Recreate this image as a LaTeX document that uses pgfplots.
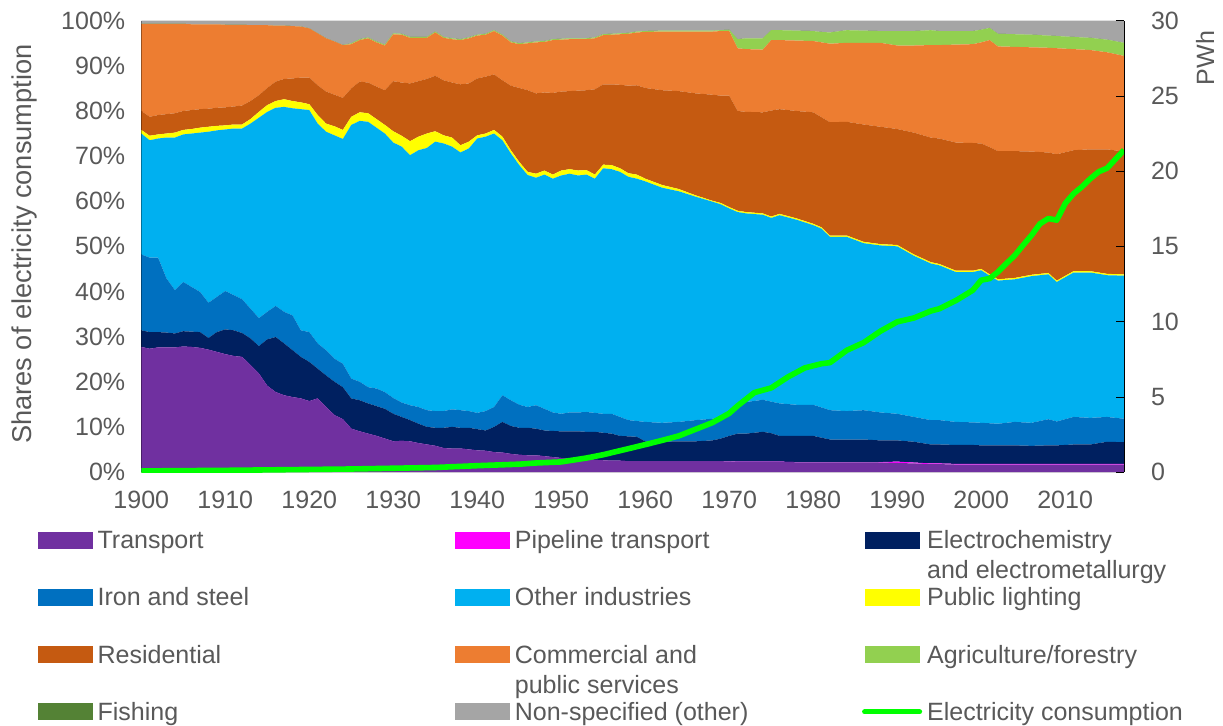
\documentclass[border=0pt]{standalone}
\usepackage{fontspec}
\setmainfont{Liberation Sans}
\usepackage{pgfplots}
\pgfplotsset{compat=1.18}
\usepackage{pgfplotstable}

\definecolor{ctra}{HTML}{7030A0}
\definecolor{cpip}{HTML}{FF00FF}
\definecolor{cele}{HTML}{002060}
\definecolor{ciro}{HTML}{0070C0}
\definecolor{coth}{HTML}{00B0F0}
\definecolor{clig}{HTML}{FFFF00}
\definecolor{cres}{HTML}{C55A11}
\definecolor{ccom}{HTML}{ED7D31}
\definecolor{cagr}{HTML}{92D050}
\definecolor{cfis}{HTML}{548235}
\definecolor{cnon}{HTML}{A5A5A5}
\definecolor{cpwh}{HTML}{00FF00}
\definecolor{ctxt}{HTML}{595959}

% shares of electricity consumption, %
\pgfplotstableread{
year tra  pip  ele  iro  oth  lig res  com  agr fis non
1900 27.7 0    3.7  16.8 26.8 0.8 4.2  19.3 0   0   0.7
1901 27.3 0    3.7  16.5 26.0 1.0 4.2  20.6 0   0   0.7
1902 27.6 0    3.4  16.5 26.4 0.9 4.3  20.2 0   0   0.7
1903 27.6 0    3.3  12.0 31.2 0.9 4.3  20.0 0   0   0.7
1904 27.6 0    3.1  9.6  33.8 1.1 4.3  19.8 0   0   0.7
1905 27.8 0    3.4  10.9 32.7 1.0 4.2  19.3 0   0   0.7
1906 27.7 0    3.4  9.9  34.0 1.0 4.2  19.0 0   0   0.8
1907 27.5 0    3.5  8.9  35.3 1.1 4.1  18.8 0   0   0.8
1908 27.1 0    2.6  7.8  37.9 1.1 4.0  18.7 0   0   0.8
1909 26.6 0    4.4  7.8  36.9 1.0 4.0  18.5 0   0   0.8
1910 26.1 0    5.5  8.5  35.8 0.9 4.0  18.3 0   0   0.9
1911 25.7 0    5.7  7.8  36.9 0.9 4.0  18.1 0   0   0.9
1912 25.5 0    5.3  7.5  37.8 0.9 4.2  17.9 0   0   0.9
1913 23.7 0    5.9  6.6  41.0 1.0 4.0  16.8 0   0   1.0
1914 21.8 0    6.1  6.2  44.4 1.3 3.7  15.5 0   0   1.0
1915 19.1 0    10.3 6.1  44.3 1.5 3.8  13.9 0   0   1.0
1916 17.7 0    12.2 6.9  43.9 1.5 4.3  12.4 0   0   1.1
1917 17.0 0    11.5 7.0  45.4 1.7 4.5  11.8 0   0   1.1
1918 16.6 0    10.4 7.7  45.9 1.6 5.0  11.6 0   0   1.2
1919 16.3 0    9.2  5.9  49.0 1.5 5.5  11.3 0   0   1.3
1920 15.7 0    8.7  6.6  49.2 1.3 5.9  10.9 0   0   1.7
1921 16.3 0    6.6  5.6  48.7 1.9 6.6  11.5 0   0   2.8
1922 14.4 0    7.0  5.6  48.4 1.8 7.1  11.8 0   0   3.9
1923 12.6 0    7.4  5.1  49.5 2.0 7.0  11.8 0   0   4.6
1924 11.7 0    7.1  5.2  49.8 2.0 7.1  11.7 0   0   5.4
1925 9.6  0    6.7  4.4  56.2 1.8 6.3  9.8  0.2 0   5.0
1926 9.0  0    6.9  4.1  57.8 1.9 6.8  9.2  0.2 0   4.1
1927 8.5  0    6.7  3.6  58.8 1.9 6.8  9.8  0.2 0   3.7
1928 8.0  0    6.6  3.9  57.8 1.9 7.2  9.8  0.2 0   4.6
1929 7.4  0    6.6  3.7  57.3 1.9 7.7  9.9  0.2 0   5.3
1930 6.8  0    6.1  3.5  56.6 2.5 11.1 10.4 0.2 0   2.8
1931 6.9  0    5.3  3.2  56.7 2.4 11.8 10.6 0.2 0   2.9
1932 6.8  0    4.7  3.3  55.4 3.1 12.8 10.1 0.2 0   3.6
1933 6.4  0    4.3  3.7  56.9 3.0 12.3 9.6  0.2 0   3.6
1934 6.1  0    3.9  3.7  58.1 3.2 12.1 9.1  0.2 0   3.6
1935 5.8  0    4.0  3.7  59.7 2.3 12.3 9.6  0.2 0   2.4
1936 5.3  0    4.5  3.7  59.3 1.8 12.2 9.4  0.2 0   3.6
1937 5.2  0    4.8  3.9  58.2 2.0 12.2 9.6  0.2 0   3.9
1938 5.2  0    4.6  3.9  57.1 1.6 13.5 9.8  0.2 0   4.1
1939 5.0  0    4.8  3.7  58.2 1.5 12.9 10.0 0.2 0   3.7
1940 4.8  0    4.7  3.6  60.8 0.7 12.6 9.5  0.2 0   3.1
1941 4.7  0    4.5  4.3  60.8 0.7 12.6 9.3  0.2 0   2.9
1942 4.4  0    5.6  4.4  60.6 0.8 12.3 9.6  0.2 0   2.1
1943 4.3  0    6.8  5.9  56.5 0.8 12.5 9.9  0.2 0   3.1
1944 4.0  0    6.2  5.7  54.7 0.7 14.3 9.6  0.2 0   4.6
1945 3.8  0    6.0  5.1  53.1 0.7 16.4 9.7  0.2 0   5.0
1946 3.7  0    6.1  4.6  51.4 0.7 18.1 10.4 0.2 0   4.8
1947 3.7  0    5.9  5.2  50.4 0.9 17.8 11.3 0.2 0   4.6
1948 3.5  0    5.7  4.8  51.9 0.9 17.3 11.2 0.2 0   4.5
1949 3.3  0    5.8  4.1  51.8 0.9 18.1 11.7 0.2 0   4.1
1950 3.1  0    5.9  3.9  52.8 1.1 17.5 11.5 0.2 0   4.0
1951 3.0  0    6.0  4.2  52.9 1.0 17.3 11.5 0.2 0   3.9
1952 2.9  0    6.1  4.2  52.5 1.1 17.7 11.4 0.2 0   3.9
1953 2.8  0    6.1  4.4  52.6 1.0 17.7 11.3 0.2 0   3.9
1954 2.7  0    6.2  4.2  51.9 0.9 18.9 11.3 0.2 0   3.7
1955 2.6  0    6.1  4.2  54.4 0.8 17.8 10.9 0.2 0   3.0
1956 2.5  0    6.0  4.4  54.2 0.9 17.9 11.0 0.2 0   2.9
1957 2.5  0    5.5  4.2  54.3 0.8 18.5 11.2 0.2 0   2.8
1958 2.4  0    5.5  3.6  53.9 0.8 19.4 11.5 0.2 0   2.7
1959 2.4  0    5.4  3.5  53.7 0.9 19.8 11.7 0.2 0   2.4
1960 2.4  0    4.4  4.3  53.3 0.6 20.1 12.4 0.2 0   2.3
1962 2.4  0    4.3  4.2  52.1 0.6 21.0 13.0 0.2 0   2.2
1964 2.4  0    4.4  4.3  51.1 0.5 21.7 13.2 0.2 0   2.2
1966 2.4  0    4.4  4.7  49.5 0.3 22.6 13.7 0.2 0   2.2
1968 2.4  0    4.6  4.8  48.1 0.2 23.5 14.0 0.2 0   2.2
1969 2.4  0    5.0  4.8  47.1 0.3 23.8 14.3 0.2 0   2.1
1970 2.35 0.05 5.6  4.9  45.5 0.3 24.7 14.3 0.3 0   2.0
1971 2.25 0.05 6.2  6.7  42.4 0.3 22.1 13.9 2.0 0   4.1
1972 2.25 0.05 6.2  7.0  41.8 0.3 22.2 13.9 2.4 0   3.9
1974 2.25 0.05 6.6  7.1  41.0 0.3 22.4 13.9 2.5 0   3.9
1975 2.25 0.05 6.3  7.0  40.7 0.3 23.5 15.6 2.2 0   2.1
1976 2.25 0.05 5.7  7.2  41.7 0.3 23.2 15.3 2.2 0   2.1
1978 2.15 0.05 5.8  6.9  41.0 0.3 23.8 15.6 2.2 0   2.2
1980 2.15 0.05 5.8  6.9  39.8 0.3 24.7 15.8 2.2 0   2.3
1981 2.15 0.05 5.4  6.7  39.6 0.3 24.4 16.6 2.3 0   2.5
1982 2.15 0.05 5.0  6.5  38.4 0.3 25.1 17.4 2.5 0   2.6
1984 2.15 0.05 5.0  6.3  38.6 0.3 25.2 17.5 2.8 0   2.1
1986 2.15 0.05 5.0  6.5  37.0 0.3 26.0 18.1 2.7 0   2.2
1988 2.1  0.1  4.8  6.2  37.0 0.3 26.0 18.6 2.6 0   2.3
1990 2.0  0.3  4.7  5.9  37.1 0.3 25.7 18.5 3.2 0   2.3
1992 1.9  0.2  4.6  5.5  35.7 0.3 27.0 19.3 3.2 0   2.3
1994 1.75 0.15 4.2  5.4  34.7 0.3 27.6 20.5 3.3 0   2.1
1995 1.75 0.15 4.2  5.4  34.3 0.3 27.8 20.7 3.1 0   2.3
1997 1.65 0.15 4.2  5.1  33.2 0.3 28.4 21.7 3.0 0   2.3
1999 1.65 0.15 4.2  5.0  33.3 0.3 28.3 21.9 2.9 0   2.3
2000 1.65 0.15 4.1  5.0  33.8 0.3 27.8 22.4 2.8 0   2.0
2001 1.65 0.15 4.1  4.9  32.7 0.3 28.2 23.7 2.7 0   1.6
2002 1.65 0.15 4.1  4.8  31.7 0.3 28.4 23.2 2.8 0   2.9
2004 1.65 0.15 4.1  5.2  31.6 0.3 28.1 23.1 2.8 0   3.0
2006 1.65 0.15 4.0  5.1  32.5 0.3 27.3 23.1 2.8 0   3.1
2008 1.65 0.15 4.1  5.8  32.1 0.3 26.7 23.2 2.7 0   3.3
2009 1.65 0.15 4.1  5.3  30.9 0.3 28.0 23.5 2.7 0   3.4
2011 1.65 0.15 4.3  6.1  32.0 0.3 26.8 22.4 2.7 0   3.6
2013 1.65 0.15 4.3  5.9  32.2 0.3 27.0 22.0 2.7 0   3.8
2015 1.65 0.15 4.9  5.5  31.4 0.3 27.6 21.5 2.8 0   4.2
2017 1.65 0.15 4.8  5.2  31.7 0.3 27.2 21.2 2.9 0   4.9
}\shares

% electricity consumption, PWh
\pgfplotstableread{
year pwh
1900 0.07
1905 0.09
1910 0.11
1915 0.14
1920 0.17
1925 0.20
1930 0.25
1935 0.30
1940 0.42
1945 0.52
1947 0.60
1950 0.67
1953 0.93
1955 1.15
1958 1.55
1960 1.82
1962 2.10
1964 2.40
1966 2.84
1968 3.28
1970 3.90
1971 4.40
1973 5.28
1975 5.59
1977 6.32
1979 6.92
1981 7.20
1982 7.27
1984 8.09
1986 8.60
1988 9.36
1990 9.98
1992 10.24
1994 10.70
1995 10.85
1997 11.40
1999 12.08
2000 12.75
2001 12.86
2002 13.30
2003 13.86
2004 14.40
2005 15.08
2006 15.74
2007 16.50
2008 16.85
2009 16.74
2010 17.85
2011 18.50
2012 18.96
2013 19.50
2014 19.96
2015 20.20
2016 20.80
2017 21.40
}\pwh

\newcommand\fnt{\fontsize{12.5}{15}\selectfont}
\newcommand\lgd[2]{\parbox[t][28.6pt][t]{#1}{\raggedright\strut#2}}
\newcommand\lgdl[2]{\parbox[t]{#1}{\raggedright\rule{0pt}{10.5pt}#2}}

\pgfplotsset{
  common/.style={
    width=491pt, height=225.5pt, scale only axis,
    xmin=1900, xmax=2017,
    tick label style={font=\fnt, color=ctxt},
    label style={font=\fnt, color=ctxt},
    /pgf/number format/assume math mode=true,
    /pgf/number format/1000 sep={},
    tick align=inside,
  },
}

\begin{document}
\begin{tikzpicture}
\begin{axis}[
  common,
  ymin=0, ymax=100,
  axis x line*=bottom, axis y line*=left,
  x axis line style={draw=black!15, -},
  y axis line style={draw=black, -},
  xtick={1900,1910,...,2010},
  xticklabel style={yshift=-6pt},
  major x tick style={draw=none},
  minor xtick={1904.5,1909.5,...,2014.5},
  minor x tick style={draw=black!15},
  minor tick length=2.5pt,
  ytick={0,10,...,100},
  yticklabel={\pgfmathprintnumber{\tick}\%},
  yticklabel style={xshift=-4.5pt},
  major tick length=4pt,
  y tick style={draw=black},
  ylabel={Shares of electricity consumption},
  ylabel style={at={(axis description cs:-0.1192,0.505)}, anchor=center,
    font=\fontsize{13.6}{16}\selectfont},
  stack plots=y,
  legend columns=3,
  legend image code/.code={\fill[#1] (0pt,0pt) rectangle (27.5pt,8.5pt);},
  legend style={at={(-0.106,-0.1225)}, anchor=north west, draw=none, fill=none,
    inner sep=0pt, row sep=0pt, font=\fnt, text=ctxt,
    cells={anchor=base west}, nodes={inner sep=0pt, text depth=},
    /tikz/every odd column/.append style={column sep=2.5pt},
    /tikz/every even column/.append style={column sep=0pt}},
]
\addplot[fill=ctra, draw=none] table[x=year, y=tra] {\shares} \closedcycle;
\addlegendentry{\lgd{178.5pt}{Transport}}
\addplot[fill=cpip, draw=none] table[x=year, y=pip] {\shares} \closedcycle;
\addlegendentry{\lgd{173.5pt}{Pipeline transport}}
\addplot[fill=cele, draw=none] table[x=year, y=ele] {\shares} \closedcycle;
\addlegendentry{\lgd{140pt}{Electrochemistry\\and electrometallurgy}}
\addplot[fill=ciro, draw=none] table[x=year, y=iro] {\shares} \closedcycle;
\addlegendentry{\lgd{178.5pt}{Iron and steel}}
\addplot[fill=coth, draw=none] table[x=year, y=oth] {\shares} \closedcycle;
\addlegendentry{\lgd{173.5pt}{Other industries}}
\addplot[fill=clig, draw=none] table[x=year, y=lig] {\shares} \closedcycle;
\addlegendentry{\lgd{140pt}{Public lighting}}
\addplot[fill=cres, draw=none] table[x=year, y=res] {\shares} \closedcycle;
\addlegendentry{\lgd{178.5pt}{Residential}}
\addplot[fill=ccom, draw=none] table[x=year, y=com] {\shares} \closedcycle;
\addlegendentry{\lgd{173.5pt}{Commercial and\\public services}}
\addplot[fill=cagr, draw=none] table[x=year, y=agr] {\shares} \closedcycle;
\addlegendentry{\lgd{140pt}{Agriculture/forestry}}
\addplot[fill=cfis, draw=none] table[x=year, y=fis] {\shares} \closedcycle;
\addlegendentry{\lgdl{178.5pt}{Fishing}}
\addplot[fill=cnon, draw=none] table[x=year, y=non] {\shares} \closedcycle;
\addlegendentry{\lgdl{173.5pt}{Non-specified (other)}}
\addlegendimage{legend image code/.code={\path (0pt,0pt); \draw[cpwh, line width=2.5pt, line cap=round] (0pt,4.25pt) -- (27.5pt,4.25pt);}}
\addlegendentry{\lgdl{140pt}{Electricity consumption}}
\end{axis}

\begin{axis}[
  common,
  ymin=0, ymax=30,
  axis x line=none,
  axis y line*=right,
  y axis line style={draw=black, -},
  ytick={0,5,...,30},
  yticklabel style={xshift=10pt},
  major tick length=4pt,
  y tick style={draw=black},
  ylabel={PWh},
  ylabel style={at={(axis description cs:1.0825,0.917)}, anchor=center},
]
\addplot[cpwh, line width=2.8pt, line join=round] table[x=year, y=pwh] {\pwh};
\end{axis}
\pgfresetboundingbox
\path[use as bounding box] ([xshift=-70.6pt, yshift=-126.65pt]current axis.south west)
  rectangle ([xshift=49.5pt, yshift=10.35pt]current axis.north east);
\end{tikzpicture}
\end{document}
